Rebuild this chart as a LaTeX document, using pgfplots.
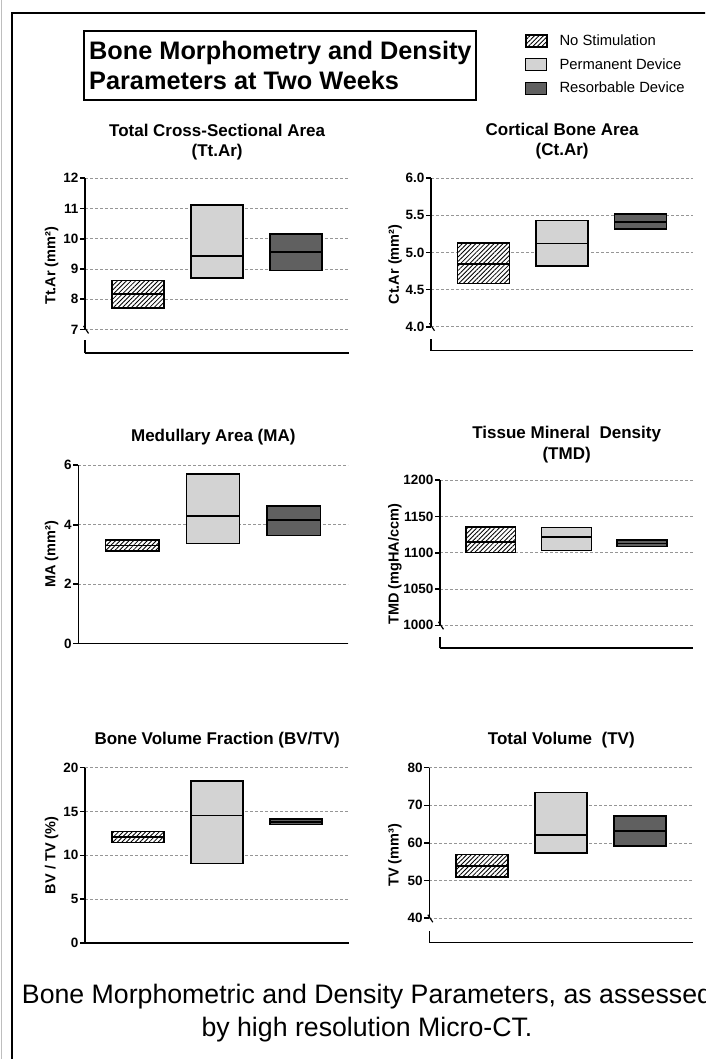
\documentclass[border=0pt]{standalone}
\usepackage{fontspec}
\setmainfont{Liberation Sans}
\usepackage{pgfplots}
\pgfplotsset{compat=1.18}
\usetikzlibrary{patterns.meta}

\definecolor{lightbox}{RGB}{211,211,211}
\definecolor{darkbox}{RGB}{96,96,96}
\definecolor{gridc}{RGB}{150,150,150}
\definecolor{edgegray}{RGB}{190,190,190}

\tikzset{
  nostim/.style={draw=black, line width=1.5pt, preaction={fill=white}, pattern={Lines[angle=45,distance=3.2pt,line width=0.85pt]}},
  permdev/.style={draw=black, line width=1.5pt, fill=lightbox},
  resdev/.style={draw=black, line width=1.5pt, fill=darkbox},
  med/.style={draw=black, line width=1.7pt},
}

\pgfplotsset{
  panel/.style={
    scale only axis,
    clip=false,
    xmin=0.33, xmax=3.675,
    xtick=\empty,
    axis x line=bottom,
    axis y line=left,
    axis line style={-, line width=1.6pt, black},
    x axis line style={-},
    y axis line style={-},
    ytick style={line width=1.6pt, black},
    tick align=outside,
    major tick length=5pt,
    ymajorgrids,
    grid style={densely dashed, gridc, line width=0.6pt},
    yticklabel style={font=\bfseries\fontsize{13.5}{15}\selectfont, inner sep=1.5pt},
    ylabel style={font=\bfseries\fontsize{14.5}{16}\selectfont, anchor=center},
    title style={font=\bfseries\fontsize{17}{20.3}\selectfont, align=center, anchor=center, at={(axis description cs:0.5,1)}},
    /pgf/number format/assume math mode=true,
    /pgf/number format/1000 sep={},
    scaled y ticks=false,
  },
  broken/.style={y axis line style={draw=none}},
}

\begin{document}
\begin{tikzpicture}
\useasboundingbox (0pt,0pt) rectangle (705pt,1059pt);
\clip (0pt,0pt) rectangle (705pt,1059pt);
\fill[white] (0pt,0pt) rectangle (705pt,1059pt);
\draw[edgegray, line width=1.5pt] (1.5pt,0pt) -- (1.5pt,1059pt);
\draw[line width=1.3pt] (706pt,1046pt) -- (12pt,1046pt) -- (12pt,-1pt);

% main title box
\draw[line width=1.3pt] (84pt,959pt) rectangle (476pt,1028pt);
\node[anchor=west, align=left, font=\bfseries\fontsize{25.3}{30}\selectfont, inner sep=0pt] at (89pt,994pt) {Bone Morphometry and Density\\Parameters at Two Weeks};

% caption
\node[align=center, font=\fontsize{26.7}{33}\selectfont, inner sep=0pt] at (367pt,46pt) {Bone Morphometric and Density Parameters, as assessed\\by high resolution Micro-CT.};

% Panel 1: Tt.Ar
\begin{axis}[panel, broken, at={(85pt,705.7pt)}, anchor=south west, width=264.3pt, height=175pt,
  ymin=6.21, ymax=12, ytick={7,8,9,10,11,12},
  title={Total Cross-Sectional Area\\(Tt.Ar)}, title style={yshift=30.3pt},
  ylabel={Tt.Ar (mm²)}, ylabel style={at={(axis description cs:-0.126,0.5)}}]
\addplot[nostim] coordinates {(0.67,7.71) (1.33,7.71) (1.33,8.61) (0.67,8.61)} -- cycle;
\addplot[med] coordinates {(0.67,8.17) (1.33,8.17)};
\addplot[permdev] coordinates {(1.67,8.70) (2.33,8.70) (2.33,11.12) (1.67,11.12)} -- cycle;
\addplot[med] coordinates {(1.67,9.42) (2.33,9.42)};
\addplot[resdev] coordinates {(2.67,8.95) (3.33,8.95) (3.33,10.16) (2.67,10.16)} -- cycle;
\addplot[med] coordinates {(2.67,9.56) (3.33,9.56)};
\draw[line width=1.6pt] (rel axis cs:0,0.1364) -- (rel axis cs:0,1);
\draw[line width=1.6pt] (rel axis cs:0,0) -- (rel axis cs:0,0.076);
\draw[line width=1.2pt] ([xshift=-1.5pt,yshift=3.5pt]rel axis cs:0,0.1364) -- ([xshift=3.5pt,yshift=-4pt]rel axis cs:0,0.1364);
\end{axis}

% Panel 2: Ct.Ar (carries the legend)
\begin{axis}[panel, broken, at={(431pt,708.3pt)}, anchor=south west, width=262.3pt, height=172.4pt,
  ymin=3.677, ymax=6, ytick={4,4.5,5,5.5,6},
  yticklabel style={/pgf/number format/.cd, fixed, fixed zerofill, precision=1},
  title={Cortical Bone Area\\(Ct.Ar)}, title style={yshift=31.3pt},
  ylabel={Ct.Ar (mm²)}, ylabel style={at={(axis description cs:-0.137,0.5)}},
  legend style={at={(axis description cs:0.359,1.845)}, anchor=north west, draw=none, fill=none,
    font=\fontsize{14.8}{17}\selectfont, row sep=7.5pt, cells={anchor=west}, inner sep=0pt},
  legend image code/.code={\draw[#1, line width=0.8pt] (0pt,-6pt) rectangle (21pt,6pt); \path (31pt,0pt);}]
\addlegendimage{nostim}
\addlegendentry{No Stimulation}
\addlegendimage{permdev}
\addlegendentry{Permanent Device}
\addlegendimage{resdev}
\addlegendentry{Resorbable Device}
\addplot[nostim] coordinates {(0.67,4.585) (1.33,4.585) (1.33,5.13) (0.67,5.13)} -- cycle;
\addplot[med] coordinates {(0.67,4.845) (1.33,4.845)};
\addplot[permdev] coordinates {(1.67,4.82) (2.33,4.82) (2.33,5.43) (1.67,5.43)} -- cycle;
\addplot[med] coordinates {(1.67,5.12) (2.33,5.12)};
\addplot[resdev] coordinates {(2.67,5.32) (3.33,5.32) (3.33,5.52) (2.67,5.52)} -- cycle;
\addplot[med] coordinates {(2.67,5.415) (3.33,5.415)};
\draw[line width=1.6pt] (rel axis cs:0,0.139) -- (rel axis cs:0,1);
\draw[line width=1.6pt] (rel axis cs:0,0) -- (rel axis cs:0,0.0659);
\draw[line width=1.2pt] ([xshift=-1.5pt,yshift=3.5pt]rel axis cs:0,0.139) -- ([xshift=3.5pt,yshift=-4pt]rel axis cs:0,0.139);
\end{axis}

% Panel 3: MA
\begin{axis}[panel, at={(78.3pt,415.3pt)}, anchor=south west, width=270pt, height=178.4pt,
  ymin=0, ymax=6, ytick={0,2,4,6},
  title={Medullary Area (MA)}, title style={yshift=22.6pt},
  ylabel={MA (mm²)}, ylabel style={at={(axis description cs:-0.0985,0.5)}}]
\addplot[nostim] coordinates {(0.67,3.11) (1.33,3.11) (1.33,3.485) (0.67,3.485)} -- cycle;
\addplot[med] coordinates {(0.67,3.30) (1.33,3.30)};
\addplot[permdev] coordinates {(1.67,3.37) (2.33,3.37) (2.33,5.71) (1.67,5.71)} -- cycle;
\addplot[med] coordinates {(1.67,4.29) (2.33,4.29)};
\addplot[resdev] coordinates {(2.67,3.64) (3.33,3.64) (3.33,4.63) (2.67,4.63)} -- cycle;
\addplot[med] coordinates {(2.67,4.15) (3.33,4.15)};
\end{axis}

% Panel 4: TMD
\begin{axis}[panel, broken, at={(440pt,410.7pt)}, anchor=south west, width=253.3pt, height=168pt,
  ymin=968.3, ymax=1200, ytick={1000,1050,1100,1150,1200},
  title={Tissue Mineral~~Density\\(TMD)}, title style={yshift=29.6pt},
  ylabel={TMD (mgHA/ccm)}, ylabel style={at={(axis description cs:-0.178,0.5)}}]
\addplot[nostim] coordinates {(0.67,1100.7) (1.33,1100.7) (1.33,1135.6) (0.67,1135.6)} -- cycle;
\addplot[med] coordinates {(0.67,1114.5) (1.33,1114.5)};
\addplot[permdev] coordinates {(1.67,1102.9) (2.33,1102.9) (2.33,1135.2) (1.67,1135.2)} -- cycle;
\addplot[med] coordinates {(1.67,1121.8) (2.33,1121.8)};
\addplot[resdev] coordinates {(2.67,1108.5) (3.33,1108.5) (3.33,1117.7) (2.67,1117.7)} -- cycle;
\addplot[med] coordinates {(2.67,1113.0) (3.33,1113.0)};
\draw[line width=1.6pt] (rel axis cs:0,0.1368) -- (rel axis cs:0,1);
\draw[line width=1.6pt] (rel axis cs:0,0) -- (rel axis cs:0,0.0652);
\draw[line width=1.2pt] ([xshift=-1.5pt,yshift=3.5pt]rel axis cs:0,0.1368) -- ([xshift=3.5pt,yshift=-4pt]rel axis cs:0,0.1368);
\end{axis}

% Panel 5: BV/TV
\begin{axis}[panel, at={(85pt,116pt)}, anchor=south west, width=264.3pt, height=175.3pt,
  ymin=0, ymax=20, ytick={0,5,10,15,20},
  title={Bone Volume Fraction (BV/TV)}, title style={yshift=21.7pt},
  ylabel={BV / TV (\%)}, ylabel style={at={(axis description cs:-0.126,0.5)}}]
\addplot[nostim] coordinates {(0.67,11.45) (1.33,11.45) (1.33,12.70) (0.67,12.70)} -- cycle;
\addplot[med] coordinates {(0.67,12.06) (1.33,12.06)};
\addplot[permdev] coordinates {(1.67,9.05) (2.33,9.05) (2.33,18.48) (1.67,18.48)} -- cycle;
\addplot[med] coordinates {(1.67,14.53) (2.33,14.53)};
\addplot[resdev] coordinates {(2.67,13.54) (3.33,13.54) (3.33,14.15) (2.67,14.15)} -- cycle;
\addplot[med] coordinates {(2.67,13.84) (3.33,13.84)};
\end{axis}

% Panel 6: TV
\begin{axis}[panel, broken, at={(429.3pt,116.3pt)}, anchor=south west, width=264pt, height=175pt,
  ymin=33.5, ymax=80, ytick={40,50,60,70,80},
  title={Total Volume~~(TV)}, title style={yshift=21.7pt},
  ylabel={TV (mm³)}, ylabel style={at={(axis description cs:-0.130,0.5)}}]
\addplot[nostim] coordinates {(0.67,51.0) (1.33,51.0) (1.33,56.9) (0.67,56.9)} -- cycle;
\addplot[med] coordinates {(0.67,53.9) (1.33,53.9)};
\addplot[permdev] coordinates {(1.67,57.4) (2.33,57.4) (2.33,73.45) (1.67,73.45)} -- cycle;
\addplot[med] coordinates {(1.67,62.2) (2.33,62.2)};
\addplot[resdev] coordinates {(2.67,59.2) (3.33,59.2) (3.33,67.1) (2.67,67.1)} -- cycle;
\addplot[med] coordinates {(2.67,63.2) (3.33,63.2)};
\draw[line width=1.6pt] (rel axis cs:0,0.1398) -- (rel axis cs:0,1);
\draw[line width=1.6pt] (rel axis cs:0,0) -- (rel axis cs:0,0.0688);
\draw[line width=1.2pt] ([xshift=-1.5pt,yshift=3.5pt]rel axis cs:0,0.1398) -- ([xshift=3.5pt,yshift=-4pt]rel axis cs:0,0.1398);
\end{axis}
\end{tikzpicture}
\end{document}
